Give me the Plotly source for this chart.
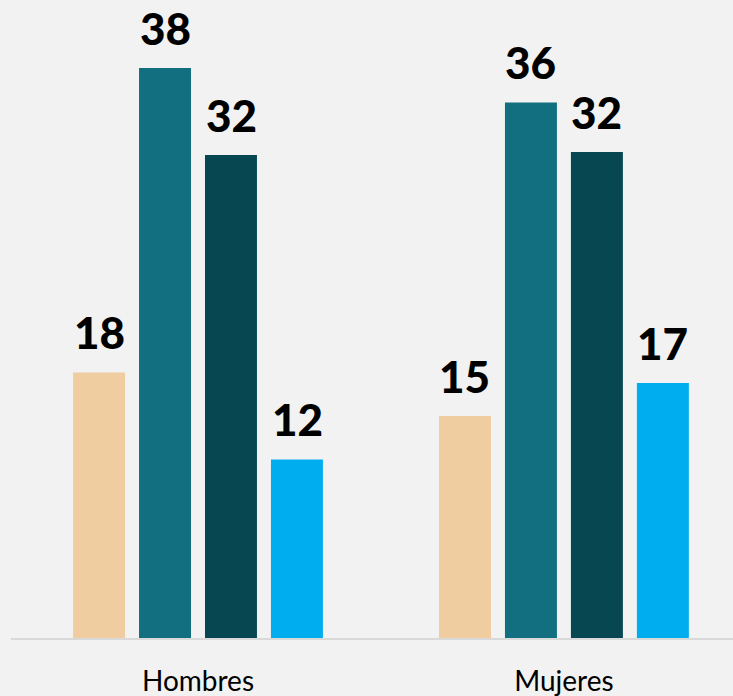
import plotly.graph_objects as go

categories = ["Hombres", "Mujeres"]
series_names = ["Serie 1", "Serie 2", "Serie 3", "Serie 4"]
series_values = [
    [17.7, 14.8],
    [38.0, 35.7],
    [32.2, 32.4],
    [11.9, 17.0],
]
series_labels = [
    ["18", "15"],
    ["38", "36"],
    ["32", "32"],
    ["12", "17"],
]
colors = ["#f0cda0", "#116f80", "#064752", "#00aeef"]

fig = go.Figure()
for name, vals, col in zip(series_names, series_values, colors):
    fig.add_trace(
        go.Bar(
            x=categories,
            y=vals,
            name=name,
            marker=dict(color=col, line=dict(width=0)),
        )
    )

# value labels above bars (shifted to each bar's slot within the group)
slot_px = 66
for i, (vals, labels) in enumerate(zip(series_values, series_labels)):
    for cat, v, lab in zip(categories, vals, labels):
        fig.add_annotation(
            x=cat,
            y=v,
            text=lab,
            showarrow=False,
            xanchor="center",
            yanchor="bottom",
            xshift=(i - 1.5) * slot_px,
            yshift=12,
            font=dict(family="Lato", size=44, color="#000000", weight=900),
        )

fig.update_layout(
    width=733,
    height=696,
    paper_bgcolor="#f2f2f2",
    plot_bgcolor="#f2f2f2",
    barmode="group",
    bargap=0.279,
    bargroupgap=0.212,
    showlegend=False,
    margin=dict(l=11, r=0, t=0, b=58, pad=0),
)
fig.update_xaxes(
    type="category",
    range=[-0.511, 1.462],
    showline=True,
    linecolor="#d9d9d9",
    linewidth=2,
    showgrid=False,
    ticks="outside",
    ticklen=17,
    tickcolor="rgba(0,0,0,0)",
    tickfont=dict(family="Lato", size=28, color="#000000"),
)
fig.update_yaxes(
    range=[0, 42.53],
    visible=False,
    showgrid=False,
    zeroline=False,
)

fig.write_html(
    "out.html",
    config={"displayModeBar": False},
    post_script="document.body.style.margin='0';document.body.style.padding='0';"
    "document.body.style.overflow='hidden';",
)
